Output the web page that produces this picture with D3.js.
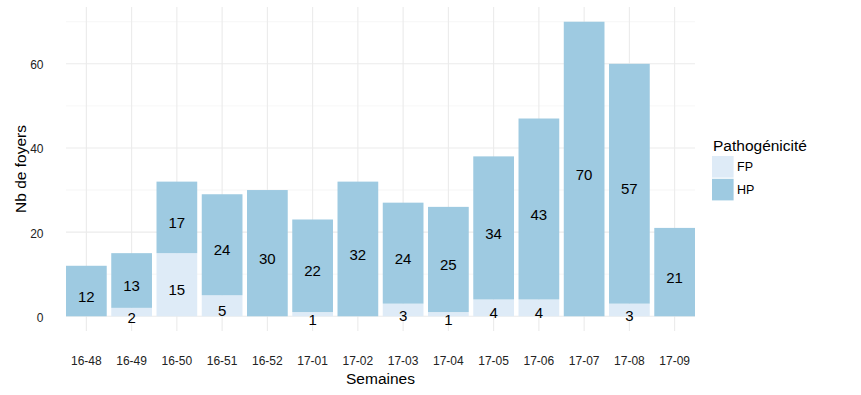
<!DOCTYPE html>
<html>
<head>
<meta charset="utf-8">
<script src="https://cdnjs.cloudflare.com/ajax/libs/d3/7.8.5/d3.min.js"></script>
<style>
  html, body { margin: 0; padding: 0; background: #ffffff; }
  text { font-family: "Liberation Sans", Arial, sans-serif; }
</style>
</head>
<body>
<svg id="chart" width="861" height="395"></svg>
<script>
// ---- data ----
const semaines = ["16-48","16-49","16-50","16-51","16-52","17-01","17-02","17-03","17-04","17-05","17-06","17-07","17-08","17-09"];
const fpValues = [0, 2, 15, 5, 0, 1, 0, 3, 1, 4, 4, 0, 3, 0];
const hpValues = [12, 13, 17, 24, 30, 22, 32, 24, 25, 34, 43, 70, 57, 21];
const seriesNames = ["FP", "HP"];
const yTicks = [0, 20, 40, 60];
const yMinorTicks = [10, 30, 50, 70];

// ---- layout ----
const svg = d3.select("#chart");
const panel = { left: 66, right: 695, top: 7, bottom: 331 };
const colors = { FP: "#deebf7", HP: "#9ecae1" };

const x = d3.scaleBand().domain(semaines).range([panel.left, panel.right]).paddingInner(0.1).paddingOuter(0);
const y = d3.scaleLinear().domain([-3.5, 73.5]).range([panel.bottom, panel.top]);

// gridlines
const grid = svg.append("g");
grid.selectAll("line.minor").data(yMinorTicks).join("line")
  .attr("x1", panel.left).attr("x2", panel.right)
  .attr("y1", d => y(d)).attr("y2", d => y(d))
  .attr("stroke", "#f4f4f4").attr("stroke-width", 0.8);
grid.selectAll("line.majorY").data(yTicks).join("line")
  .attr("x1", panel.left).attr("x2", panel.right)
  .attr("y1", d => y(d)).attr("y2", d => y(d))
  .attr("stroke", "#ebebeb").attr("stroke-width", 1.1);
grid.selectAll("line.majorX").data(semaines).join("line")
  .attr("x1", d => x(d) + x.bandwidth() / 2).attr("x2", d => x(d) + x.bandwidth() / 2)
  .attr("y1", panel.top).attr("y2", panel.bottom)
  .attr("stroke", "#ebebeb").attr("stroke-width", 1.1);

// stacked data
const rows = semaines.map((s, i) => ({ semaine: s, FP: fpValues[i], HP: hpValues[i] }));
const stack = d3.stack().keys(seriesNames)(rows);

const bars = svg.append("g");
stack.forEach(layer => {
  bars.selectAll(null).data(layer).join("rect")
    .attr("x", d => x(d.data.semaine))
    .attr("width", x.bandwidth())
    .attr("y", d => y(d[1]))
    .attr("height", d => y(d[0]) - y(d[1]))
    .attr("fill", colors[layer.key]);
});

// bar labels (centered in segment)
const labels = svg.append("g");
stack.forEach(layer => {
  labels.selectAll(null).data(layer.filter(d => d[1] - d[0] > 0)).join("text")
    .attr("x", d => x(d.data.semaine) + x.bandwidth() / 2)
    .attr("y", d => y((d[0] + d[1]) / 2) + 10.6)
    .attr("text-anchor", "middle")
    .attr("font-size", 15)
    .attr("fill", "#000")
    .text(d => d[1] - d[0]);
});

// y axis tick labels
svg.append("g").selectAll("text").data(yTicks).join("text")
  .attr("x", 43.5).attr("y", d => y(d) + 5.5)
  .attr("text-anchor", "end").attr("font-size", 12).attr("fill", "#222")
  .text(d => d);

// x axis tick labels
svg.append("g").selectAll("text").data(semaines).join("text")
  .attr("x", d => x(d) + x.bandwidth() / 2).attr("y", 365.3)
  .attr("text-anchor", "middle").attr("font-size", 12).attr("fill", "#222")
  .text(d => d);

// axis titles
svg.append("text")
  .attr("x", (panel.left + panel.right) / 2).attr("y", 384)
  .attr("text-anchor", "middle").attr("font-size", 15.5).attr("fill", "#000")
  .text("Semaines");
svg.append("text")
  .attr("transform", `translate(25.5, ${(panel.top + panel.bottom) / 2}) rotate(-90)`)
  .attr("text-anchor", "middle").attr("font-size", 15.5).attr("fill", "#000")
  .text("Nb de foyers");

// legend
const legend = svg.append("g");
legend.append("text").attr("x", 713).attr("y", 150.5)
  .attr("font-size", 15.5).attr("fill", "#000").text("Pathogénicité");
const keySize = 21.6;
seriesNames.forEach((name, i) => {
  const ky = 156 + i * (keySize + 1.2);
  legend.append("rect").attr("x", 712).attr("y", ky)
    .attr("width", keySize).attr("height", keySize).attr("fill", colors[name]);
  legend.append("text").attr("x", 737).attr("y", ky + keySize / 2 + 4.5)
    .attr("font-size", 12.5).attr("fill", "#000").text(name);
});
</script>
</body>
</html>
